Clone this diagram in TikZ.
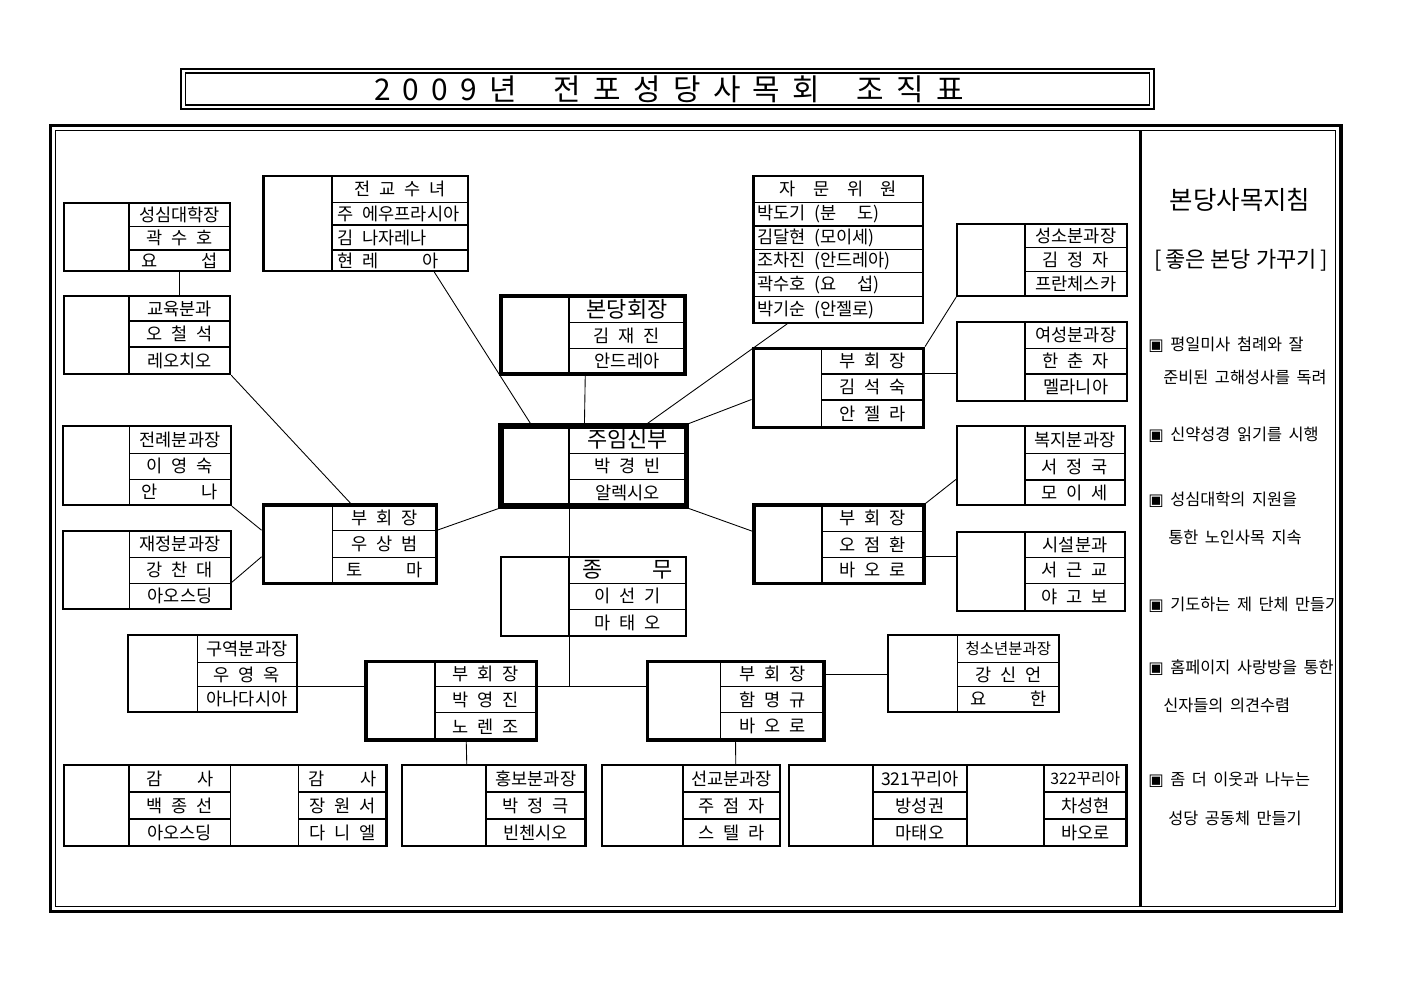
\documentclass[tikz,border=0pt]{standalone}
\usepackage{fontspec}
\setmainfont{Noto Sans CJK KR}
\newfontfamily\dejavu{DejaVu Sans}
\usetikzlibrary{fit, calc}

\newcommand{\bigtxt}[1]{{\fontsize{12.5}{12.5}\selectfont #1}}
\newcommand{\smalltxt}[1]{{\fontsize{9}{10}\selectfont #1}}
\newcommand{\lcell}[2]{\makebox[#1][l]{#2}}
\newcommand{\wgap}{\hspace{1em}}
% box with an empty left cell and a column of text rows
\newcommand{\orgbox}[8]{%
  \node[cellbox, fit={(#3,#6)(#4,#7)}] (#1-0) {};
  \foreach \ya/\yb/\txt [count=\i] in {#8}{%
    \node[cellbox, fit={(#4,\ya)(#5,\yb)}] (#1-\i) {};
    \node[celltext] at (#1-\i.center) {\txt};
  }
  \node[outerbox, line width=#2, fit={(#3,#6)(#5,#7)}] (#1) {};
}

\begin{document}
\begin{tikzpicture}[
    x=0.02cm, y=-0.02cm,
    cellbox/.style={draw, line width=0.6pt, inner sep=0pt},
    outerbox/.style={draw, inner sep=0pt},
    celltext/.style={inner sep=0pt, font={\fontsize{10}{11}\selectfont\spaceskip=0.5em\relax}},
    titletext/.style={inner sep=0pt, font={\fontsize{17}{17}\selectfont}},
    gtitle/.style={inner sep=0pt, font={\fontsize{14.5}{15}\selectfont}},
    gline/.style={anchor=west, inner sep=0pt, font={\fontsize{9.3}{11}\selectfont\spaceskip=0.4em\relax}},
    conn/.style={line width=0.5pt}
]
    \useasboundingbox (0,0) rectangle (1403,992);

    % Title frame
    \draw[line width=1.6pt] (181,69) rectangle (1154,109);
    \draw[line width=0.6pt] (185.5,73) rectangle (1149.5,105);
    \node[titletext] (title) at (669,89) {\makebox[11.8cm][s]{2\hfill 0\hfill 0\hfill 9\hfill 년\hfill\hfill\hfill 전\hfill 포\hfill 성\hfill 당\hfill 사\hfill 목\hfill 회\hfill\hfill\hfill 조\hfill 직\hfill 표}};

    % Main frame
    \draw[line width=2.2pt] (50.5,125.5) rectangle (1341,911.5);
    \draw[line width=0.8pt] (55.5,130.5) rectangle (1335.5,906.5);
    \draw[line width=1.2pt] (1140.5,130.5) -- (1140.5,906.5);

    % Center column
    \orgbox{hoejang}{2pt}{501}{569}{685}{296}{374}{296/322.5/\bigtxt{본당회장},
      322.5/348.5/김 재 진, 348.5/374/안드레아}
    \orgbox{sinbu}{2.9pt}{501}{569}{686.5}{426}{506}{426/453.3/\bigtxt{주임신부},
      453.3/479.3/박 경 빈, 479.3/506/알렉시오}
    \orgbox{chongmu}{1.3pt}{501}{569}{686}{556.7}{636}{556.7/583.3/\bigtxt{종\hspace{2.3em}무},
      583.3/609.3/이 선 기, 609.3/636/마 태 오}

    % Upper left
    \orgbox{sshak}{1.3pt}{64}{129}{230}{203}{271}{203/226.5/성심대학장,
      226.5/250/곽 수 호, 250/271/요\hspace{2.5em}섭}
    \orgbox{gyoyuk}{1.3pt}{64}{129}{230}{296}{374}{296/321/교육분과,
      321/347/오 철 석, 347/374/레오치오}
    \orgbox{sunyeo}{1.3pt}{263.5}{332}{468}{176}{271}{176/202.5/전 교 수 녀,
      202.5/225/\lcell{2.5cm}{주 에우프라시아}, 225/250/\lcell{2.5cm}{김 나자레나},
      250/271/\lcell{2.5cm}{현 레\hspace{2.5em}아}}

    % Lower left
    \orgbox{jeonrye}{1.3pt}{63.3}{129.3}{230.7}{426}{505}{426/453.3/전례분과장,
      453.3/479.3/이 영 숙, 479.3/505/안\hspace{2.5em}나}
    \orgbox{jaejeong}{1.3pt}{63.3}{129.3}{230.7}{530.7}{609.3}{530.7/557.3/재정분과장,
      557.3/583.3/강 찬 대, 583.3/609.3/아오스딩}
    \orgbox{vp-wsb}{2pt}{263.3}{332.7}{436.7}{505}{583.3}{505/530.7/부 회 장,
      530.7/557.3/우 상 범, 557.3/583.3/토\hspace{2.5em}마}

    % Upper right
    \orgbox{jamun}{1.3pt}{753.3}{753.3}{923.3}{176}{322.7}{176/202.7/자\wgap 문\wgap 위\wgap 원,
      202.7/226/\lcell{3.25cm}{박도기 (분\hspace{1.2em}도)},
      226/249.3/\lcell{3.25cm}{김달현 (모이세)},
      249.3/272.7/\lcell{3.25cm}{조차진 (안드레아)},
      272.7/296.7/\lcell{3.25cm}{곽수호 (요\hspace{1.2em}섭)},
      296.7/322.7/\lcell{3.25cm}{박기순 (안젤로)}}
    \orgbox{vp-kss}{2pt}{753.3}{821.7}{923.3}{348.3}{427.3}{348.3/374/부 회 장,
      374/400/김 석 숙, 400/427.3/안 젤 라}
    \orgbox{seongso}{1.3pt}{957.3}{1025}{1126.7}{224}{296}{224/247.3/성소분과장,
      247.3/271.7/김 정 자, 271.7/296/프란체스카}
    \orgbox{yeoseong}{1.3pt}{957.3}{1025}{1126.7}{321.7}{400.7}{321.7/348.3/여성분과장,
      348.3/374/한 춘 자, 374/400.7/멜라니아}

    % Lower right
    \orgbox{vp-ojh}{2pt}{754}{822}{924}{505}{583.3}{505/531.7/부 회 장,
      531.7/557.3/오 점 환, 557.3/583.3/바 오 로}
    \orgbox{bokji}{1.3pt}{957}{1025}{1125}{426}{505}{426/453.3/복지분과장,
      453.3/480/서 정 국, 480/505/모 이 세}
    \orgbox{siseol}{1.3pt}{957}{1025}{1125}{531.7}{610.7}{531.7/557.3/시설분과,
      557.3/583.3/서 근 교, 583.3/610.7/야 고 보}

    % Third level
    \orgbox{guyeok}{1.3pt}{128.3}{197.3}{296.7}{635}{711.7}{635/662.3/구역분과장,
      662.3/686.7/우 영 옥, 686.7/711.7/아나다시아}
    \orgbox{vp-pyj}{2pt}{366}{435}{536.7}{661.7}{740}{661.7/686.7/부 회 장,
      686.7/712.7/박 영 진, 712.7/740/노 렌 조}
    \orgbox{vp-hmg}{2pt}{647.3}{720.7}{824}{661.7}{740}{661.7/686.7/부 회 장,
      686.7/712.7/함 명 규, 712.7/740/바 오 로}
    \orgbox{cheongso}{1.3pt}{888.3}{957.3}{1059.3}{635}{711.7}{635/662.3/{\fontsize{8.8}{10}\selectfont 청소년분과장},
      662.3/686.7/강 신 언, 686.7/711.7/요\hspace{2.5em}한}

    % Bottom row
    \orgbox{gamsa-a}{0.6pt}{64}{129}{230.5}{765}{846}{765/792/감\hspace{2em}사,
      792/819/백 종 선, 819/846/아오스딩}
    \orgbox{gamsa-b}{0.6pt}{230.5}{298.5}{386.5}{765}{846}{765/792/감\hspace{2em}사,
      792/819/장 원 서, 819/846/다 니 엘}
    \node[outerbox, line width=1.4pt, fit={(64,765)(386.5,846)}] (gamsa) {};
    \orgbox{hongbo}{1.4pt}{402}{486}{585.5}{765}{846}{765/792/홍보분과장,
      792/819/박 정 극, 819/846/빈첸시오}
    \orgbox{seongyo}{1.4pt}{602}{683}{780}{765}{846}{765/792/선교분과장,
      792/819/주 점 자, 819/846/스 텔 라}
    \orgbox{curia-a}{0.6pt}{789}{873}{967}{765}{846}{765/792/321꾸리아,
      792/819/방성권, 819/846/마태오}
    \orgbox{curia-b}{0.6pt}{967}{1044}{1126.5}{765}{846}{765/792/\smalltxt{322꾸리아},
      792/819/차성현, 819/846/바오로}
    \node[outerbox, line width=1.4pt, fit={(789,765)(1126.5,846)}] (curia) {};

    % Connections
    \draw[conn] (sshak-3.south) -- (gyoyuk-1.north);
    \draw[conn] ($(sunyeo.south west)+(172,0)$) -- ($(sinbu.north west)+(32,0)$);
    \draw[conn] ($(hoejang.south west)+(86,0)$) -- ($(sinbu.north west)+(86,0)$);
    \draw[conn] ($(jamun.south west)+(35,0)$) -- ($(sinbu.north west)+(149,0)$);
    \draw[conn] (sinbu.north east) -- (vp-kss.west |- vp-kss-3.north);
    \draw[conn] (vp-kss.north east) -- (seongso.south west);
    \draw[conn] (vp-kss-2.north east) -- (yeoseong.west |- vp-kss-2.north);
    \draw[conn] (sinbu.south east) -- (vp-ojh.west |- vp-ojh-2.north);
    \draw[conn] (vp-ojh.north east) -- (bokji.west |- bokji-3.north);
    \draw[conn] (vp-ojh-3.north east) -- (siseol.west |- vp-ojh-3.north);
    \draw[conn] (gyoyuk.south east) -- ($(vp-wsb.north west)+(89,0)$);
    \draw[conn] (jeonrye.south east) -- (vp-wsb.west |- vp-wsb-2.north);
    \draw[conn] (jaejeong-3.north east) -- (vp-wsb.west |- vp-wsb-3.north);
    \draw[conn] (vp-wsb-2.north east) -- (sinbu.south west);
    \draw[conn] (sinbu-0.south east) -- (chongmu-0.north east);
    \draw[conn] (chongmu-0.south east) -- (chongmu-0.south east |- vp-pyj-2.north);
    \draw[conn] (vp-pyj-2.north east) -- (vp-hmg.west |- vp-pyj-2.north);
    \draw[conn] (guyeok-3.north east) -- (vp-pyj.west |- guyeok-3.north);
    \draw[conn] (vp-hmg-1.east) -- (cheongso.west |- vp-hmg-1.east);
    \draw[conn] ($(vp-pyj.south west)+(102,0)$) -- ($(hongbo.north west)+(66,0)$);
    \draw[conn] ($(vp-hmg.south west)+(90,0)$) -- ($(seongyo.north west)+(135,0)$);

    % Guidelines panel
    \begin{scope}
      \clip (1142,131) rectangle (1335,906);
      \node[gtitle] (gd-title) at (1240,200) {본당사목지침};
      \node[gtitle, font={\fontsize{12.5}{13}\selectfont}] (gd-sub) at (1241,260) {[\,좋은 본당 가꾸기\,]};
      \node[gline] (gd-1a) at (1148,345) {{\dejavu ▣} 평일미사 첨례와 잘};
      \node[gline] (gd-1b) at (1163,377) {준비된 고해성사를 독려};
      \node[gline] (gd-2) at (1148,435) {{\dejavu ▣} 신약성경 읽기를 시행};
      \node[gline] (gd-3a) at (1148,500) {{\dejavu ▣} 성심대학의 지원을};
      \node[gline] (gd-3b) at (1168,537) {통한 노인사목 지속};
      \node[gline] (gd-4) at (1148,605) {{\dejavu ▣} 기도하는 제 단체 만들기};
      \node[gline] (gd-5a) at (1148,668) {{\dejavu ▣} 홈페이지 사랑방을 통한};
      \node[gline] (gd-5b) at (1163,705) {신자들의 의견수렴};
      \node[gline] (gd-6a) at (1148,780) {{\dejavu ▣} 좀 더 이웃과 나누는};
      \node[gline] (gd-6b) at (1168,818) {성당 공동체 만들기};
    \end{scope}
\end{tikzpicture}
\end{document}
